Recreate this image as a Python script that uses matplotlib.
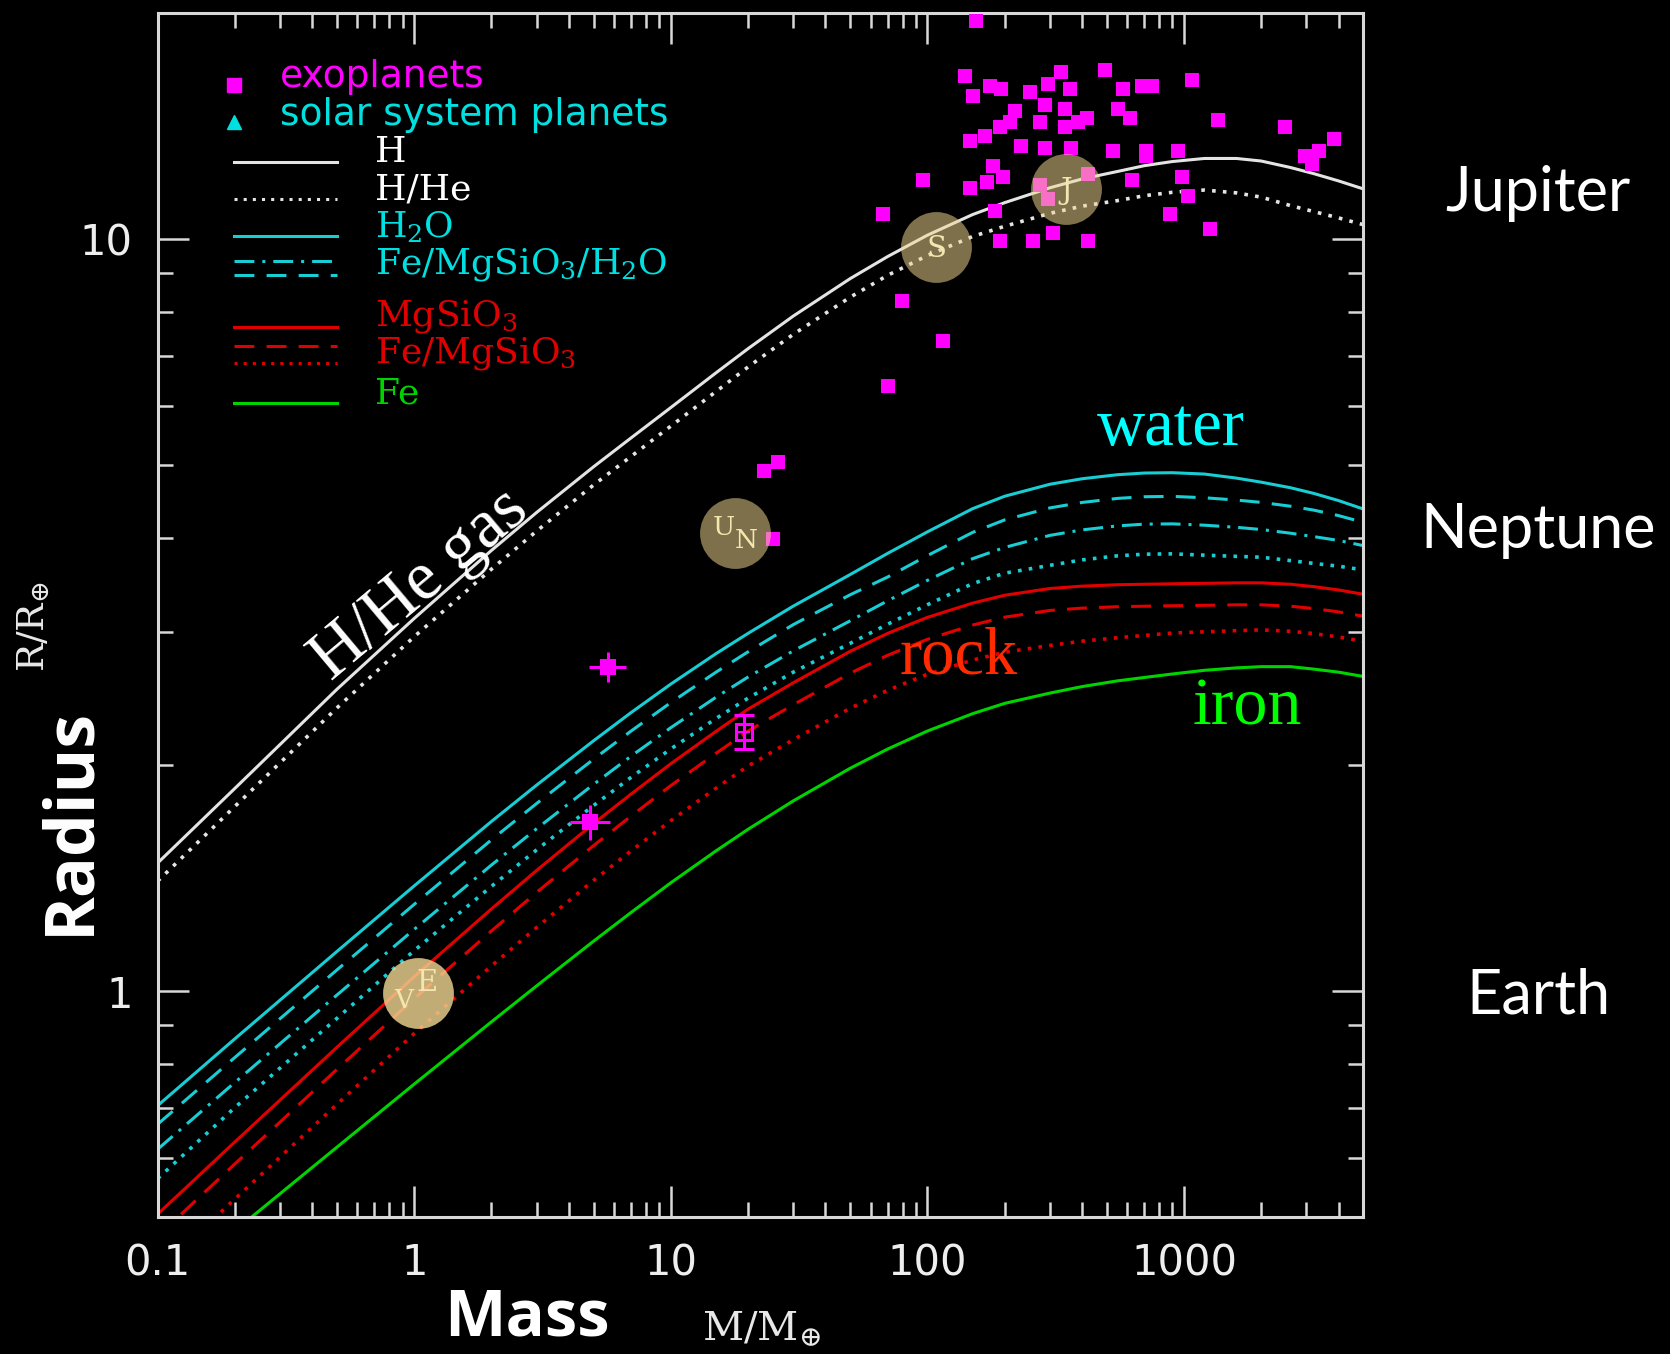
import matplotlib.pyplot as plt
from matplotlib.ticker import LogLocator, NullFormatter

plt.rcParams['mathtext.fontset'] = 'dejavuserif'
plt.rcParams['font.family'] = ['DejaVu Sans']

# mass grid (Earth masses) shared by all model curves
mass = [0.1, 0.2, 0.5, 1, 2, 3, 5, 7, 10, 15, 20, 30, 50, 70, 100, 150, 200, 300, 400,
        550, 700, 900, 1200, 1600, 2000, 2600, 3200, 4000, 5000]

# radii (Earth radii)
r_h = [1.48, 1.86, 2.52, 3.13, 3.855, 4.33, 4.98, 5.44, 5.97, 6.64, 7.15, 7.90, 8.86, 9.48, 10.12,
       10.78, 11.18, 11.70, 12.02, 12.30, 12.52, 12.68, 12.80, 12.80, 12.70, 12.45, 12.22, 11.95, 11.66]
r_hhe = [1.40, 1.76, 2.38, 2.96, 3.64, 4.09, 4.71, 5.14, 5.64, 6.27, 6.76, 7.47, 8.37, 8.95, 9.51,
         10.08, 10.40, 10.82, 11.06, 11.25, 11.42, 11.54, 11.62, 11.52, 11.37, 11.08, 10.88, 10.67, 10.45]
r_h2o = [0.704, 0.864, 1.129, 1.380, 1.681, 1.879, 2.152, 2.346, 2.56, 2.81, 2.99, 3.25, 3.58, 3.82,
         4.08, 4.38, 4.55, 4.72, 4.80, 4.86, 4.885, 4.89, 4.87, 4.81, 4.75, 4.67, 4.59, 4.49, 4.375]
r_mix_dash = [0.665, 0.816, 1.067, 1.304, 1.589, 1.776, 2.034, 2.217, 2.419, 2.655, 2.826, 3.071, 3.365,
              3.553, 3.794, 4.073, 4.232, 4.390, 4.464, 4.520, 4.543, 4.548, 4.529, 4.497, 4.465,
              4.413, 4.361, 4.288, 4.20]
r_mix_dashdot = [0.616, 0.756, 0.988, 1.208, 1.471, 1.644, 1.883, 2.053, 2.24, 2.459, 2.616, 2.834,
                 3.107, 3.304, 3.517, 3.758, 3.890, 4.036, 4.104, 4.155, 4.177, 4.181, 4.164, 4.137,
                 4.109, 4.063, 4.021, 3.974, 3.911]
r_mix_dot = [0.563, 0.700, 0.920, 1.132, 1.378, 1.541, 1.765, 1.924, 2.099, 2.304, 2.452, 2.655, 2.900,
             3.075, 3.264, 3.482, 3.595, 3.682, 3.744, 3.791, 3.810, 3.814, 3.799, 3.785, 3.775,
             3.736, 3.704, 3.673, 3.631]
r_rock = [0.505, 0.630, 0.842, 1.045, 1.286, 1.447, 1.670, 1.828, 2.006, 2.215, 2.371, 2.57, 2.83, 2.99,
          3.14, 3.28, 3.36, 3.43, 3.455, 3.47, 3.475, 3.48, 3.485, 3.49, 3.49, 3.475, 3.45, 3.415, 3.37]
r_ferock = [0.472, 0.589, 0.787, 0.977, 1.202, 1.353, 1.561, 1.709, 1.876, 2.071, 2.217, 2.403, 2.646,
            2.796, 2.936, 3.067, 3.142, 3.207, 3.230, 3.244, 3.249, 3.254, 3.258, 3.263, 3.263, 3.249,
            3.226, 3.193, 3.151]
r_ferock2 = [0.424, 0.529, 0.707, 0.878, 1.080, 1.215, 1.403, 1.536, 1.685, 1.861, 1.992, 2.159, 2.377,
             2.512, 2.638, 2.755, 2.822, 2.881, 2.919, 2.950, 2.971, 2.993, 3.004, 3.015, 3.022, 3.009,
             2.988, 2.957, 2.918]
r_fe = [0.395, 0.480, 0.620, 0.752, 0.910, 1.016, 1.165, 1.272, 1.393, 1.536, 1.641, 1.790, 1.978, 2.098,
        2.217, 2.338, 2.413, 2.49, 2.54, 2.585, 2.612, 2.64, 2.67, 2.69, 2.70, 2.70, 2.68, 2.655, 2.62]

# exoplanets (no error bars)
exo_m = [139.6, 150.5, 174.9, 194, 250, 295, 333, 359, 287, 219, 209, 191, 167, 146, 274, 343, 343, 387,
         417, 491, 580, 683, 747, 554, 615, 1071, 1361, 2477, 3825, 2966, 3343, 3148, 232, 287, 364, 530,
         714, 714, 950, 96, 146, 170, 180, 197, 67, 183, 191, 258, 309, 423, 625, 979, 1039, 881, 1263,
         274, 295, 423, 154.5, 79.7, 115, 70.5, 23.1, 26.1, 24.9]
exo_r = [16.5, 15.5, 16.0, 15.85, 15.7, 16.1, 16.7, 15.85, 15.1, 14.8, 14.3, 14.1, 13.7, 13.5, 14.3, 14.9, 14.1, 14.3,
         14.5, 16.8, 15.85, 16.0, 16.0, 14.9, 14.5, 16.3, 14.4, 14.1, 13.6, 12.9, 13.1, 12.6, 13.3, 13.2, 13.2, 13.1,
         13.1, 12.9, 13.1, 12.0, 11.7, 11.9, 12.5, 12.1, 10.8, 10.9, 9.93, 9.93, 10.2, 9.93, 12.0, 12.1, 11.4, 10.8, 10.3,
         11.8, 11.3, 12.2, 19.5, 8.28, 7.31, 6.37, 4.92, 5.06, 3.99]

# small planets with error bars
eb_m = [5.68, 4.83]
eb_r = [2.70, 1.68]
eb_m_lo = [4.80, 4.03]
eb_m_hi = [6.71, 5.79]
eb_r_lo = [2.58, 1.59]
eb_r_hi = [2.82, 1.77]
open_m = [19.2]
open_r = [2.21]
open_r_lo = [2.10]
open_r_hi = [2.33]

# solar system planets
ss_m = [1.03, 17.8, 108, 348]
ss_r = [0.995, 4.07, 9.77, 11.64]

WHITE = '#e4e4e4'
CYAN = '#19cdd4'
RED = '#e00000'
GREEN = '#00d400'
MAG = '#ff00ff'

DASH = (0, (6.5, 4))
DOT = (0, (1, 2.0))
DASHDOT = (0, (6.5, 2.6, 1, 2.6))

fig = plt.figure(figsize=(16.7, 13.54), dpi=100, facecolor='black')
ax = fig.add_axes([0.0944, 0.1009, 0.722, 0.8897], facecolor='black')
ax.set_xscale('log')
ax.set_yscale('log')
ax.set_xlim(0.1, 5000)
ax.set_ylim(0.5, 20)

lw = 2.2
lwd = 2.6
ax.plot(mass, r_h, color=WHITE, lw=lw)
ax.plot(mass, r_hhe, color=WHITE, lw=lwd, ls=DOT)
ax.plot(mass, r_h2o, color=CYAN, lw=lw)
ax.plot(mass, r_mix_dash, color=CYAN, lw=lw, ls=DASH)
ax.plot(mass, r_mix_dashdot, color=CYAN, lw=lw, ls=DASHDOT)
ax.plot(mass, r_mix_dot, color=CYAN, lw=lwd, ls=DOT)
ax.plot(mass, r_rock, color=RED, lw=lw)
ax.plot(mass, r_ferock, color=RED, lw=lw, ls=DASH)
ax.plot(mass, r_ferock2, color=RED, lw=lwd, ls=DOT)
ax.plot(mass, r_fe, color=GREEN, lw=lw)

ax.plot(exo_m, exo_r, 's', color=MAG, ms=10.5, mew=0, zorder=4)

xerr = [[m - lo for m, lo in zip(eb_m, eb_m_lo)], [hi - m for m, hi in zip(eb_m, eb_m_hi)]]
yerr = [[r - lo for r, lo in zip(eb_r, eb_r_lo)], [hi - r for r, hi in zip(eb_r, eb_r_hi)]]
ax.errorbar(eb_m, eb_r, xerr=xerr, yerr=yerr, fmt='s', color=MAG, ms=11, mew=0,
            elinewidth=2.2, capsize=7, capthick=2.2, zorder=5)
oyerr = [[r - lo for r, lo in zip(open_r, open_r_lo)], [hi - r for r, hi in zip(open_r, open_r_hi)]]
ax.errorbar(open_m, open_r, yerr=oyerr, fmt='s', color=MAG, ms=11, mfc='none', mew=2.2,
            elinewidth=2.2, capsize=7, capthick=2.2, zorder=5)
ax.plot(open_m, open_r, '+', color=MAG, ms=8, mew=1.5, zorder=5)

# solar system planets as translucent discs
alphas = [0.8, 0.52, 0.52, 0.52]
for m, r, a in zip(ss_m, ss_r, alphas):
    ax.plot(m, r, 'o', ms=51, color='#f2d892', alpha=a, mew=0, zorder=6)

letter = dict(color='#f4e6b0', family='DejaVu Serif', ha='center', va='center', zorder=7,
              textcoords='offset points')
ax.annotate('V', (ss_m[0], ss_r[0]), xytext=(-10, -6), fontsize=19, **letter)
ax.annotate('E', (ss_m[0], ss_r[0]), xytext=(7, 7), fontsize=21, **letter)
ax.annotate('U', (ss_m[1], ss_r[1]), xytext=(-8, 4), fontsize=19, **letter)
ax.annotate('N', (ss_m[1], ss_r[1]), xytext=(8, -6), fontsize=19, **letter)
ax.annotate('S', (ss_m[2], ss_r[2]), xytext=(0, -2), fontsize=21, **letter)
ax.annotate('J', (ss_m[3], ss_r[3]), xytext=(0, -1), fontsize=21, **letter)

# in-plot labels
serif = 'Liberation Serif'
ax.text(0.2180, 0.525, 'H/He gas', transform=ax.transAxes, color='white', family=serif,
        fontsize=50, rotation=40, ha='center', va='center')
ax.text(0.8405, 0.6548, 'water', transform=ax.transAxes, color='#00ffff', family=serif,
        fontsize=48, ha='center', va='center')
ax.text(0.6640, 0.4651, 'rock', transform=ax.transAxes, color='#ff2a00', family=serif,
        fontsize=48, ha='center', va='center')
ax.text(0.9040, 0.4230, 'iron', transform=ax.transAxes, color='#00ff00', family=serif,
        fontsize=49, ha='center', va='center')

# legend drawn by hand
tr = ax.transAxes
x0, x1, xt = 0.0634, 0.1488, 0.1803
ax.plot([x0], [0.9401], 's', color=MAG, ms=10, transform=tr)
ax.text(0.1015, 0.9467, 'exoplanets', color=MAG, fontsize=27, transform=tr, va='center')
ax.plot([x0], [0.9089], '^', color='#00e0e0', ms=10, transform=tr)
ax.text(0.1015, 0.9151, 'solar system planets', color='#00e0e0', fontsize=27, transform=tr, va='center')

leg_lines = [
    (0.8762, WHITE, '-'), (0.8454, WHITE, DOT),
    (0.8147, CYAN, '-'), (0.7940, CYAN, DASHDOT), (0.7824, CYAN, DASH),
    (0.7392, RED, '-'), (0.7235, RED, DASH), (0.7094, RED, DOT),
    (0.6761, GREEN, '-'),
]
for y, c, ls in leg_lines:
    ax.plot([x0, x1], [y, y], color=c, ls=ls, lw=lw, transform=tr)

leg_text = [
    (0.8845, 'H', 'white'), (0.8529, 'H/He', 'white'),
    (0.8222, r'$\mathrm{H_2O}$', '#00e0e0'), (0.7907, r'$\mathrm{Fe/MgSiO_3/H_2O}$', '#00e0e0'),
    (0.7475, r'$\mathrm{MgSiO_3}$', RED), (0.7169, r'$\mathrm{Fe/MgSiO_3}$', RED),
    (0.6836, 'Fe', GREEN),
]
for y, s, c in leg_text:
    ax.text(xt, y, s, color=c, fontsize=26, family='DejaVu Serif', transform=tr, va='center')

# axes styling
for sp in ax.spines.values():
    sp.set_color('#d8d8d8')
    sp.set_linewidth(2.2)
ax.set_xticks([0.1, 1, 10, 100, 1000])
ax.set_xticklabels(['0.1', '1', '10', '100', '1000'])
ax.set_yticks([1, 10])
ax.set_yticklabels(['1', '10'])
ax.xaxis.set_minor_locator(LogLocator(base=10, subs=range(2, 10), numticks=20))
ax.yaxis.set_minor_locator(LogLocator(base=10, subs=range(2, 10), numticks=20))
ax.xaxis.set_minor_formatter(NullFormatter())
ax.yaxis.set_minor_formatter(NullFormatter())
ax.tick_params(which='both', direction='in', top=True, right=True, color='#d8d8d8', width=1.8,
               labelcolor='#eeeeee', labelsize=30)
ax.tick_params(which='major', length=22, pad=18)
ax.tick_params(which='minor', length=11)

# outer labels
fig.text(527 / 1670, 1 - 1352 / 1354, 'Mass', color='white', family='Open Sans', weight='bold',
         fontsize=47, ha='center', va='bottom')
fig.text(762 / 1670, 1 - 1329 / 1354, r'$\mathrm{M/M_{\oplus}}$', color='#e8e8e8', fontsize=29,
         ha='center', va='center')
fig.text(70 / 1670, 1 - 821 / 1354, 'Radius', color='white', family='Open Sans', weight='bold',
         fontsize=49, rotation=90, ha='center', va='center')
fig.text(34 / 1670, 1 - 627 / 1354, r'$\mathrm{R/R_{\oplus}}$', color='#e8e8e8', fontsize=27,
         rotation=90, ha='center', va='center')
for name, yy in [('Jupiter', 193), ('Neptune', 530), ('Earth', 996)]:
    fig.text(1538 / 1670, 1 - yy / 1354, name, color='white', family='Lato', fontsize=44,
             ha='center', va='center')

fig.savefig('out.png', dpi=100, facecolor='black')
